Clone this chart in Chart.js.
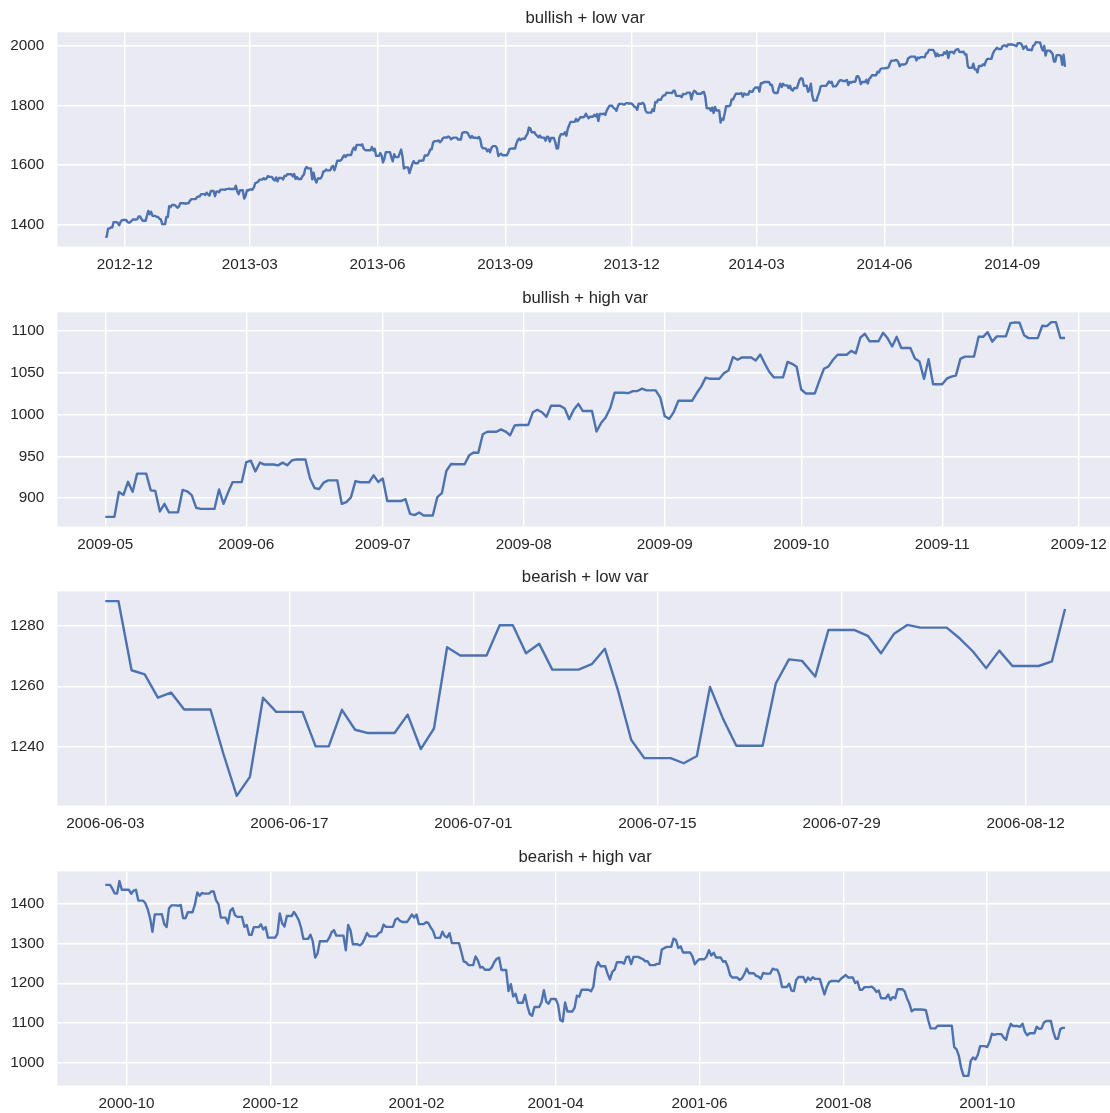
<!DOCTYPE html>
<html><head><meta charset="utf-8">
<script src="https://cdn.jsdelivr.net/npm/chart.js@4.4.1/dist/chart.umd.min.js"></script>
<style>
html,body{margin:0;padding:0;background:#fff;overflow:hidden;width:1110px;height:1113px;position:relative;}
.panel{position:absolute;left:0;width:1116px;height:280px;}
canvas{display:block;}
</style></head><body>
<div class="panel" style="top:0px"><canvas id="c1" width="1116" height="280" style="width:1116px;height:280px"></canvas></div>
<div class="panel" style="top:280px"><canvas id="c2" width="1116" height="280" style="width:1116px;height:280px"></canvas></div>
<div class="panel" style="top:559px"><canvas id="c3" width="1116" height="280" style="width:1116px;height:280px"></canvas></div>
<div class="panel" style="top:839px"><canvas id="c4" width="1116" height="280" style="width:1116px;height:280px"></canvas></div>
<script>
// ---------- DATA (one value per calendar day, starting at the start date) ----------
const titles = ['bullish + low var', 'bullish + high var', 'bearish + low var', 'bearish + high var'];

const p1Start = '2012-11-17';
const p1Values = [
1359.9,1359.9,1386.9,1387.8,1391.0,1391.0,1409.2,1409.2,1409.2,1406.3,1398.9,1409.9,1416.0,1416.2,
1416.2,1416.2,1409.5,1407.1,1409.3,1413.9,1418.1,1418.1,1418.1,1418.6,1427.8,1428.5,1419.5,1413.6,1413.6,1413.6,1430.4,1446.8,1435.8,1443.7,1430.2,1430.2,1430.2,1426.7,1426.7,1419.8,1418.1,1402.4,1402.4,1402.4,1426.2,
1426.2,1462.4,1459.4,1466.5,1466.5,1466.5,1461.9,1457.2,1461.0,1472.1,1472.1,1472.1,1472.1,1470.7,1472.3,1472.6,1480.9,1486.0,1486.0,1486.0,1486.0,1492.6,1494.8,1494.8,1503.0,1503.0,1503.0,1500.2,1507.8,1502.0,1498.1,
1513.2,1513.2,1513.2,1495.7,1511.3,1512.1,1509.4,1517.9,1517.9,1517.9,1517.0,1519.4,1520.3,1521.4,1519.8,1519.8,1519.8,1519.8,1530.9,1512.0,1502.4,1515.6,1515.6,1515.6,1487.9,1496.9,1516.0,1514.7,
1518.2,1518.2,1518.2,1525.2,1539.8,1541.5,1544.3,1551.2,1551.2,1551.2,1556.2,1552.5,1554.5,1563.2,1560.7,1560.7,1560.7,1552.1,1548.3,1558.7,1545.8,1556.9,1556.9,1556.9,1551.7,1563.8,1562.9,1569.2,1569.2,1569.2,1569.2,
1562.2,1570.3,1553.7,1560.0,1553.3,1553.3,1553.3,1563.1,1568.6,1587.7,1593.4,1588.9,1588.9,1588.9,1552.4,1574.6,1552.0,1541.6,1555.3,1555.3,1555.3,1562.5,1578.8,1578.8,1585.2,1582.2,1582.2,1582.2,1593.6,1597.6,
1582.7,1597.6,1614.4,1614.4,1614.4,1617.5,1626.0,1632.7,1626.7,1633.7,1633.7,1633.7,1633.8,1650.3,1658.8,1650.5,1667.5,1667.5,1667.5,1666.3,1669.2,1655.4,1650.5,1649.6,1649.6,1649.6,1649.6,1660.1,1648.4,1654.4,1630.7,
1630.7,1630.7,1640.4,1631.4,1608.9,1622.6,1643.4,1643.4,1643.4,1642.8,1626.1,1612.5,1636.4,1626.7,1626.7,1626.7,1639.0,1651.8,1628.9,1588.2,1592.4,1592.4,1592.4,1573.1,1588.0,1603.3,1613.2,1606.3,1606.3,1606.3,
1615.0,1614.1,1615.4,1615.4,1631.9,1631.9,1631.9,1640.5,1652.3,1652.6,1675.0,1680.2,1680.2,1680.2,1682.5,1676.3,1680.9,1689.4,1692.1,1692.1,1692.1,1695.5,1692.4,1685.9,1690.3,1691.7,1691.7,1691.7,1685.3,1686.0,1685.7,
1706.9,1709.7,1709.7,1709.7,1707.1,1697.4,1690.9,1697.5,1691.4,1691.4,1691.4,1689.5,1694.2,1685.4,1661.3,1655.8,1655.8,1655.8,1646.1,1652.4,1642.8,1657.0,1663.5,1663.5,1663.5,1656.8,1630.5,1635.0,1638.2,1633.0,1633.0,
1633.0,1633.0,1639.8,1653.1,1655.1,1655.2,1655.2,1655.2,1671.7,1684.0,1689.1,1683.4,1688.0,1688.0,1688.0,1697.6,1704.8,1725.5,1722.3,1709.9,1709.9,1709.9,1701.8,1697.4,1692.8,1698.7,1691.8,1691.8,1691.8,1681.6,
1695.0,1693.9,1678.7,1690.5,1690.5,1690.5,1676.1,1655.5,1656.4,1692.6,1703.2,1703.2,1703.2,1710.1,1698.1,1721.5,1733.2,1744.5,1744.5,1744.5,1744.7,1754.7,1746.4,1752.1,1759.8,1759.8,1759.8,1762.1,1772.0,1763.3,1756.5,
1761.6,1761.6,1761.6,1767.9,1763.0,1770.5,1747.2,1770.6,1770.6,1770.6,1771.9,1767.7,1782.0,1790.6,1798.2,1798.2,1798.2,1791.5,1787.9,1781.4,1795.9,1804.8,1804.8,1804.8,1802.5,1802.8,1807.2,1807.2,1805.8,1805.8,
1805.8,1800.9,1795.2,1792.8,1785.0,1805.1,1805.1,1805.1,1808.4,1802.6,1782.2,1775.5,1775.3,1775.3,1775.3,1786.5,1781.0,1810.7,1809.6,1818.3,1818.3,1818.3,1828.0,1833.3,1833.3,1842.0,1841.4,1841.4,1841.4,1841.1,1848.4,
1848.4,1832.0,1831.4,1831.4,1831.4,1826.8,1837.9,1837.5,1838.1,1842.4,1842.4,1842.4,1819.2,1838.9,1848.4,1845.9,1838.7,1838.7,1838.7,1838.7,1843.8,1844.9,1828.5,1790.3,1790.3,1790.3,1781.6,1792.5,1774.2,1794.2,1782.6,
1782.6,1782.6,1741.9,1755.2,1751.6,1773.4,1797.0,1797.0,1797.0,1799.8,1819.8,1819.3,1829.8,1838.6,1838.6,1838.6,1838.6,1840.8,1828.8,1839.8,1836.3,1836.3,1836.3,1847.6,1845.1,1845.2,1854.3,1859.5,
1859.5,1859.5,1845.7,1873.9,1873.8,1877.0,1878.0,1878.0,1878.0,1877.2,1867.6,1868.2,1846.3,1841.1,1841.1,1841.1,1858.8,1872.3,1860.8,1872.0,1866.5,1866.5,1866.5,1857.4,1865.6,1852.6,1849.0,1857.6,1857.6,1857.6,1872.3,
1885.5,1890.9,1888.8,1865.1,1865.1,1865.1,1845.0,1852.0,1872.2,1833.1,1815.7,1815.7,1815.7,1830.6,1843.0,1862.3,1864.9,1864.9,1864.9,1864.9,1871.9,1879.6,1875.4,1878.6,1863.4,1863.4,1863.4,1869.4,1878.3,1884.0,
1883.7,1881.1,1881.1,1881.1,1884.7,1867.7,1878.2,1875.6,1878.5,1878.5,1878.5,1896.7,1897.5,1888.5,1870.9,1877.9,1877.9,1877.9,1885.1,1872.8,1888.0,1892.5,1900.5,1900.5,1900.5,1900.5,1911.9,1909.8,1920.0,1923.6,1923.6,
1923.6,1925.0,1924.2,1927.9,1940.5,1949.4,1949.4,1949.4,1951.3,1950.8,1943.9,1930.1,1936.2,1936.2,1936.2,1937.8,1942.0,1957.0,1959.5,1962.9,1962.9,1962.9,1962.6,1950.0,1959.5,1957.2,1961.0,1961.0,1961.0,1960.2,
1973.3,1974.6,1985.4,1985.4,1985.4,1985.4,1977.7,1963.7,1972.8,1964.7,1967.6,1967.6,1967.6,1977.1,1973.3,1981.6,1958.1,1978.2,1978.2,1978.2,1973.6,1983.5,1987.0,1988.0,1978.3,1978.3,1978.3,1978.9,1970.0,1970.1,1930.7,
1925.2,1925.2,1925.2,1939.0,1920.2,1920.2,1909.6,1931.6,1931.6,1931.6,1936.9,1933.8,1946.7,1955.2,1955.1,1955.1,1955.1,1971.7,1981.6,1986.5,1992.4,1988.4,1988.4,1988.4,1997.9,2000.0,2000.1,1996.7,2003.4,2003.4,2003.4,
2003.4,2002.3,2000.7,1997.7,2007.7,2007.7,2007.7,2001.5,1988.4,1995.7,1997.5,1985.5,1985.5,1985.5,1984.1,1999.0,2001.6,2011.4,2010.4,2010.4,2010.4,1994.3,1982.8,1998.3,1966.0,1982.9,1982.9,1982.9,1977.8,1972.3,
1946.2,1946.2,1967.9,1967.9,1967.9,1964.8,1935.1,1968.9,1928.2
];
const p1XTicks = ['2012-12','2013-03','2013-06','2013-09','2013-12','2014-03','2014-06','2014-09'];
const p1YTicks = [1400,1600,1800,2000];

const p2Start = '2009-05-01';
const p2Values = [
877.5,877.5,877.5,907.2,903.8,919.5,907.4,929.2,929.2,929.2,909.2,908.4,883.9,893.1,882.9,882.9,882.9,909.7,908.1,903.5,888.3,887.0,887.0,887.0,887.0,910.3,893.1,906.8,919.1,919.1,919.1,
942.9,944.7,931.8,942.5,940.1,940.1,940.1,939.1,942.4,939.2,944.9,946.2,946.2,946.2,923.7,912.0,910.7,918.4,921.2,921.2,921.2,893.0,895.1,900.9,920.3,918.9,918.9,918.9,927.2,919.3,
923.3,896.4,896.4,896.4,896.4,898.7,881.0,879.6,882.7,879.1,879.1,879.1,901.1,905.8,932.7,940.7,940.4,940.4,940.4,951.1,954.6,954.1,976.3,979.3,979.3,979.3,982.2,979.6,975.2,986.8,987.5,
987.5,987.5,1002.6,1005.7,1002.7,997.1,1010.5,1010.5,1010.5,1007.1,994.4,1005.8,1012.7,1004.1,1004.1,1004.1,979.7,989.7,996.5,1007.4,1026.1,1026.1,1026.1,1025.6,1028.0,1028.1,1031.0,1028.9,1028.9,1028.9,1020.6,
998.0,994.8,1003.2,1016.4,1016.4,1016.4,1016.4,1025.4,1033.4,1044.1,1042.7,1042.7,1042.7,1049.3,1052.6,1068.8,1065.5,1068.3,1068.3,1068.3,1064.7,1071.7,1060.9,1050.8,1044.4,1044.4,1044.4,1063.0,1060.6,1057.1,
1029.9,1025.2,1025.2,1025.2,1040.5,1054.7,1057.6,1065.5,1071.5,1071.5,1071.5,1076.2,1073.2,1092.0,1096.6,1087.7,1087.7,1087.7,1097.9,1091.1,1081.4,1092.9,1079.6,1079.6,1079.6,1067.0,1063.4,1042.6,1066.1,1036.2,1036.2,
1036.2,1042.9,1045.4,1046.5,1066.6,1069.3,1069.3,1069.3,1093.1,1093.0,1098.5,1087.2,1093.5,1093.5,1093.5,1109.3,1110.3,1109.8,1094.9,1091.4,1091.4,1091.4,1106.2,1105.7,1110.6,1110.6,1091.5,1091.5
];
const p2XTicks = ['2009-05','2009-06','2009-07','2009-08','2009-09','2009-10','2009-11','2009-12'];
const p2YTicks = [900,950,1000,1050,1100];

const p3Start = '2006-06-03';
const p3Values = [
1288.2,1288.2,1265.3,1263.9,1256.2,1257.9,1252.3,1252.3,1252.3,1237.4,1223.7,1230.0,1256.2,1251.5,1251.5,1251.5,1240.1,1240.1,1252.2,1245.6,1244.5,1244.5,1244.5,1250.6,1239.2,1246.0,1272.9,1270.2,
1270.2,1270.2,1280.2,1280.2,1270.9,1274.1,1265.5,1265.5,1265.5,1267.3,1272.4,1258.6,1242.3,1236.2,1236.2,1236.2,1234.5,1236.9,1259.8,1249.1,1240.3,1240.3,1240.3,1260.9,1268.9,1268.4,1263.2,1278.6,1278.6,1278.6,1276.7,
1270.9,1277.4,1280.3,1279.4,1279.4,1279.4,1275.8,1271.5,1266.0,1271.8,1266.7,1266.7,1266.7,1268.2,1285.6
];
const p3XTicks = ['2006-06-03','2006-06-17','2006-07-01','2006-07-15','2006-07-29','2006-08-12'];
const p3YTicks = [1240,1260,1280];

const p4Start = '2000-09-22';
const p4Values = [
1448.7,1448.7,1448.7,1439.0,1427.2,1426.6,1458.3,1436.5,1436.5,
1436.5,1436.2,1426.5,1434.3,1436.3,1409.0,1409.0,1409.0,1402.0,1387.0,1364.6,1329.8,1374.2,1374.2,1374.2,1374.6,1350.0,1342.1,1388.8,1396.9,1396.9,1396.9,1395.8,1398.1,1364.9,1364.4,1379.6,1379.6,1379.6,1398.7,1429.4,
1421.2,1428.3,1426.7,1426.7,1426.7,1432.2,1431.9,1409.3,1400.1,1366.0,1366.0,1366.0,1351.3,1383.0,1389.8,1372.3,1367.7,1367.7,1367.7,1342.6,1347.4,1322.4,1322.4,1341.8,1341.8,1341.8,1349.0,1336.1,1341.9,1315.2,
1315.2,1315.2,1315.2,1325.0,1376.5,1351.5,1343.6,1369.9,1369.9,1369.9,1380.2,1371.2,1360.0,1340.9,1312.2,1312.2,1312.2,1322.7,1305.6,1264.7,1274.9,1306.0,1306.0,1306.0,1306.0,1315.2,1328.9,1334.2,1320.3,1320.3,1320.3,
1320.3,1283.3,1347.6,1333.3,1298.4,1298.4,1298.4,1295.9,1300.8,1313.3,1326.8,1318.6,1318.6,1318.6,1318.6,1326.7,1329.5,1348.0,1342.5,1342.5,1342.5,1342.9,1360.4,1364.3,1357.5,1355.0,1355.0,1355.0,1364.2,1373.7,1366.0,
1373.5,1349.5,1349.5,1349.5,1354.3,1352.3,1340.9,1332.5,1314.8,1314.8,1314.8,1330.3,1318.8,1315.9,1326.6,1301.5,1301.5,1301.5,1301.5,1278.9,1255.3,1252.8,1245.9,1245.9,1245.9,1267.7,1257.9,1239.9,
1241.2,1234.2,1234.2,1234.2,1241.4,1253.8,1261.9,1264.7,1233.4,1233.4,1233.4,1180.2,1197.7,1166.7,1173.6,1150.5,1150.5,1150.5,1170.8,1142.6,1122.1,1117.6,1139.8,1139.8,1139.8,1152.7,1182.2,1153.3,1148.0,1160.3,1160.3,
1160.3,1145.9,1106.5,1103.3,1151.4,1128.4,1128.4,1128.4,1137.6,1168.4,1165.9,1183.5,1183.5,1183.5,1183.5,1179.7,1191.8,1238.2,1253.7,1243.0,1243.0,1243.0,1224.4,1209.5,1228.8,1234.5,1253.1,1253.1,1253.1,1249.5,
1266.4,1267.4,1248.6,1266.6,1266.6,1266.6,1263.5,1261.2,1255.5,1255.5,1245.7,1245.7,1245.7,1248.9,1249.4,1285.0,1288.5,1292.0,1292.0,1292.0,1312.8,1309.4,1289.1,1293.2,1277.9,1277.9,1277.9,1277.9,1267.9,1248.1,1255.8,
1260.7,1260.7,1260.7,1267.1,1283.6,1270.0,1277.0,1265.0,1265.0,1265.0,1254.4,1255.9,1241.6,1219.9,1214.4,1214.4,1214.4,1208.4,1212.6,1223.1,1237.0,1225.4,1225.4,1225.4,1218.6,1216.8,1211.1,1226.2,1224.4,1224.4,
1224.4,1236.7,1234.5,1234.5,1219.2,1190.6,1190.6,1190.6,1198.8,1181.5,1180.2,1208.1,1215.7,1215.7,1215.7,1202.5,1214.4,1207.7,1215.0,1210.9,1210.9,1210.9,1191.0,1171.7,1190.5,1202.9,1205.8,1205.8,1205.8,1204.5,1211.2,
1215.9,1220.8,1214.4,1214.4,1214.4,1200.5,1204.4,1183.5,1183.4,1190.2,1190.2,1190.2,1191.3,1186.7,1178.0,1181.7,1162.0,1162.0,1162.0,1171.4,1157.3,1165.3,1162.1,1184.9,1184.9,1184.9,1179.2,1161.5,1148.6,1129.0,1133.6,
1133.6,1133.6,1133.6,1132.9,1131.7,1106.4,1085.8,1085.8,1085.8,1092.5,1092.5,1092.5,1092.5,1092.5,1092.5,1092.5,1038.8,1032.7,1016.1,984.5,965.8,965.8,965.8,1003.5,1012.3,1007.0,1018.6,1040.9,1040.9,1040.9,
1038.6,1051.3,1072.3,1069.6,1071.4,1071.4,1071.4,1062.4,1056.8,1081.0,1097.4,1091.7,1091.7,1091.7,1090.0,1097.5,1077.1,1068.6,1073.5,1073.5,1073.5,1089.9,1084.8,1085.2,1100.1,1104.6,1104.6,1104.6,1078.3,1059.8,1059.8,
1084.1,1087.2,1087.2
];
const p4XTicks = ['2000-10','2000-12','2001-02','2001-04','2001-06','2001-08','2001-10'];
const p4YTicks = [1000,1100,1200,1300,1400];

// ---------- RENDERING ----------
const FONT = '"Liberation Sans", Arial, "DejaVu Sans", sans-serif';
const TEXT = '#262626';
const DAY = 86400000;
function dayNum(s) {
  const p = s.split('-').map(Number);
  return Date.UTC(p[0], p[1] - 1, p.length > 2 ? p[2] : 1) / DAY;
}

const bgPlugin = {
  id: 'axesBackground',
  beforeDraw(chart) {
    const a = chart.chartArea, ctx = chart.ctx;
    ctx.save();
    ctx.fillStyle = '#EAEAF2';
    ctx.fillRect(a.left, a.top, a.right - a.left, a.bottom - a.top);
    ctx.restore();
  }
};

function makePanel(id, title, start, values, xTicks, yTicks) {
  const s = dayNum(start);
  const pts = values.map((v, i) => ({ x: s + i, y: v }));
  const x0 = s, x1 = s + values.length - 1, xm = (x1 - x0) * 0.05;
  const vmin = Math.min(...values), vmax = Math.max(...values), ym = (vmax - vmin) * 0.05;
  const tickVals = xTicks.map(dayNum);
  const tickLab = new Map(tickVals.map((v, i) => [v, xTicks[i]]));
  new Chart(document.getElementById(id), {
    type: 'line',
    data: { datasets: [{ data: pts, borderColor: '#4C72B0', borderWidth: 2.4, pointRadius: 0,
      tension: 0, fill: false, borderJoinStyle: 'round', borderCapStyle: 'butt' }] },
    options: {
      responsive: false, animation: false, devicePixelRatio: 1,
      layout: { padding: { left: 0, right: 3, top: 0, bottom: 0 } },
      plugins: {
        legend: { display: false },
        tooltip: { enabled: false },
        title: { display: true, text: title, color: TEXT, fullSize: false,
          font: { family: FONT, size: 16.7, weight: 'normal', lineHeight: 1.2 },
          padding: { top: 8.2, bottom: 4.1 } }
      },
      scales: {
        x: {
          type: 'linear', min: x0 - xm, max: x1 + xm,
          grid: { color: '#ffffff', lineWidth: 1.4, drawTicks: false },
          border: { display: false },
          ticks: { autoSkip: false, maxRotation: 0, minRotation: 0, padding: 8.7, color: TEXT,
            font: { family: FONT, size: 15.3 }, callback: v => tickLab.has(v) ? tickLab.get(v) : '' },
          afterBuildTicks: sc => { sc.ticks = tickVals.map(v => ({ value: v })); },
          afterFit: sc => { sc.height = 280 - 246.6; }
        },
        y: {
          type: 'linear', min: vmin - ym, max: vmax + ym,
          grid: { color: '#ffffff', lineWidth: 1.4, drawTicks: false },
          border: { display: false },
          ticks: { autoSkip: false, padding: 13, color: TEXT, font: { family: FONT, size: 15.3 },
            callback: v => String(v) },
          afterBuildTicks: sc => { sc.ticks = yTicks.map(v => ({ value: v })); },
          afterFit: sc => { sc.width = 57.3; }
        }
      }
    },
    plugins: [bgPlugin]
  });
}

makePanel('c1', titles[0], p1Start, p1Values, p1XTicks, p1YTicks);
makePanel('c2', titles[1], p2Start, p2Values, p2XTicks, p2YTicks);
makePanel('c3', titles[2], p3Start, p3Values, p3XTicks, p3YTicks);
makePanel('c4', titles[3], p4Start, p4Values, p4XTicks, p4YTicks);
</script>
</body></html>
